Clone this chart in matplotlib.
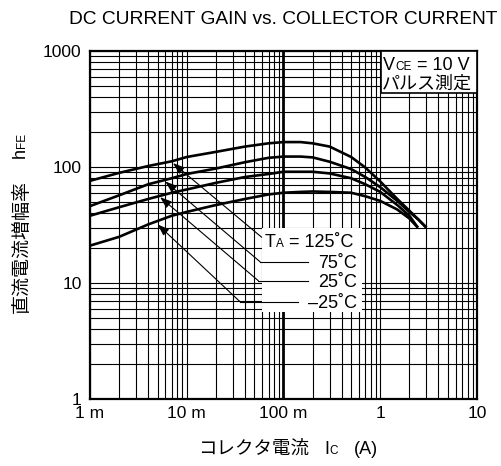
import matplotlib
matplotlib.use("Agg")
import matplotlib.pyplot as plt
from matplotlib.ticker import LogLocator, NullFormatter, FixedLocator
from matplotlib.patches import Rectangle

plt.rcParams['font.family'] = ['Liberation Sans', 'Noto Sans CJK JP']

# Data (collector current in A, hFE)
ic_high = [0.001, 0.002, 0.004, 0.007, 0.01, 0.02, 0.04, 0.07, 0.1, 0.15, 0.2, 0.3, 0.5, 0.7, 1.0, 1.5, 2.0, 2.5, 3.0]
hfe_125 = [76, 89, 102, 112, 122, 135, 150, 160, 164, 164, 160, 150, 122, 99, 75, 53, 42, 35, 30]
hfe_75 = [46, 57, 71, 80, 87, 97, 110, 120, 123, 123, 121, 111, 96, 82, 67, 51, 41, 35, 30]

ic_low = [0.001, 0.002, 0.004, 0.007, 0.01, 0.02, 0.04, 0.07, 0.1, 0.15, 0.2, 0.3, 0.5, 0.7, 1.0, 1.5, 2.0, 2.45]
hfe_25 = [38, 45, 53, 60, 64, 73, 82, 87, 91, 91, 91, 88, 80, 71, 61, 47, 38, 30]
hfe_m25 = [21, 25, 32, 38, 41, 47, 53, 58, 60, 61, 61.5, 61, 60, 56, 51, 43, 36, 30]

temp_labels = ['125˚C', '75˚C', '25˚C', '–25˚C']
arrow_tips = [(0.0072, 108), (0.0060, 75), (0.0053, 55), (0.0050, 32)]   # where each leader touches its curve

x_ticks = [0.001, 0.01, 0.1, 1, 10]
x_tick_labels = ['1 m', '10 m', '100 m', '1', '10']
y_ticks = [1, 10, 100, 1000]
y_tick_labels = ['1', '10', '100', '1000']

W, H = 502, 466
FS = 13        # main text size
SUB = 8.5      # size of the small letters (CE, A, C, FE)

def fx(px): return px / W            # pixel -> figure fraction
def fy(py): return 1 - py / H

fig = plt.figure(figsize=(W / 100, H / 100), dpi=100)
ax = fig.add_axes([fx(90), fy(399), 387 / W, 348 / H])
ax.set_xscale('log')
ax.set_yscale('log')
ax.set_xlim(1e-3, 10)
ax.set_ylim(1, 1000)

# log grid with every minor line, like the printed graph paper
ax.xaxis.set_major_locator(FixedLocator(x_ticks))
ax.xaxis.set_minor_locator(LogLocator(base=10, subs=range(2, 10), numticks=20))
ax.xaxis.set_minor_formatter(NullFormatter())
ax.set_xticklabels(x_tick_labels)
ax.yaxis.set_major_locator(FixedLocator(y_ticks))
ax.yaxis.set_minor_locator(LogLocator(base=10, subs=range(2, 10), numticks=20))
ax.yaxis.set_minor_formatter(NullFormatter())
ax.set_yticklabels(y_tick_labels)
ax.tick_params(which='both', length=0, labelsize=12.5, colors='black')
ax.tick_params(axis='x', pad=5)
ax.tick_params(axis='y', pad=6)
ax.grid(which='both', color='black', linewidth=0.8)
for s in ax.spines.values():
    s.set_linewidth(1.6)
for loc, gl in zip(ax.get_xticks(), ax.get_xgridlines()):
    if abs(loc - 0.1) < 1e-9:
        gl.set_linewidth(2.0)          # heavy line at 100 mA

# curves
for xs, ys in [(ic_high, hfe_125), (ic_high, hfe_75), (ic_low, hfe_25), (ic_low, hfe_m25)]:
    ax.plot(xs, ys, color='black', linewidth=1.9, zorder=2.5, solid_capstyle='butt')

# white patch behind the temperature labels
ax.add_patch(Rectangle((0.4444, 0.25), 0.2584, 0.2422, transform=ax.transAxes,
                       facecolor='white', edgecolor='none', zorder=2.2))

def chain(first, pieces, size0=FS):
    # place text pieces one after another on a shared baseline
    prev, prev_size, lift = first, size0, 0.0
    for s, size in pieces:
        lift += 0.212 * (prev_size - size)     # descent difference, keeps baselines level
        prev = ax.annotate(s, xy=(1, 0), xycoords=prev, xytext=(0, 0.212 * (prev_size - size)),
                           textcoords='offset points', ha='left', va='bottom',
                           fontsize=size, annotation_clip=False, zorder=4)
        prev_size = size
    return prev

# leader lines: bend point / end of horizontal run, axes fraction
bends = [(0.4437, 0.4647), (0.4393, 0.3945), (0.4349, 0.3399), (0.3876, 0.2796)]
run_ends = [None, 0.5633, 0.5633, 0.5375]
for tip, bend, end in zip(arrow_tips, bends, run_ends):
    ax.annotate('', xy=tip, xycoords='data', xytext=bend, textcoords='axes fraction',
                arrowprops=dict(arrowstyle='-|>,head_length=0.7,head_width=0.25', color='black',
                                lw=0.8, shrinkA=0, shrinkB=0, mutation_scale=10), zorder=3)
    if end is not None:
        ax.plot([bend[0], end], [bend[1], bend[1]], transform=ax.transAxes,
                color='black', linewidth=0.8, zorder=3)

t = ax.text(0.4522, 0.4368, 'T', transform=ax.transAxes, fontsize=FS, ha='left', va='baseline', zorder=4)
chain(t, [('A', SUB), (' = ' + temp_labels[0], FS)])
for lab, yb in zip(temp_labels[1:], [0.3756, 0.3210, 0.2629]):
    ax.text(0.6891, yb, lab, transform=ax.transAxes, fontsize=FS, ha='right', va='baseline', zorder=4)

# condition box top right
ax.add_patch(Rectangle((0.752, 0.879), 0.248, 0.121, transform=ax.transAxes,
                       facecolor='white', edgecolor='black', linewidth=1.2, zorder=3, clip_on=False))
v = ax.text(0.758, 0.945, 'V', transform=ax.transAxes, fontsize=FS, ha='left', va='baseline', zorder=4)
chain(v, [('CE', SUB), (' = 10 V', FS)])
ax.text(0.7537, 0.905, 'パルス測定', transform=ax.transAxes, fontsize=FS, ha='left', va='center', zorder=4)

# title and axis labels
fig.text(fx(283.5), fy(20), 'DC CURRENT GAIN vs. COLLECTOR CURRENT', ha='center', va='center', fontsize=13.8)

fig.text(fx(198), fy(454), 'コレクタ電流', ha='left', va='baseline', fontsize=13.3)
ic = fig.text(fx(324), fy(454), 'I', ha='left', va='baseline', fontsize=FS)
chain(ic, [('C', SUB)])
fig.text(fx(354), fy(454), '(A)', ha='left', va='baseline', fontsize=FS)

fig.text(fx(26.5), fy(313), '直流電流増幅率', rotation=90, rotation_mode='anchor', ha='left', va='baseline', fontsize=13.7)
fig.text(fx(25), fy(158), 'h', rotation=90, rotation_mode='anchor', ha='left', va='baseline', fontsize=FS)
fig.text(fx(25), fy(147.5), 'FE', rotation=90, rotation_mode='anchor', ha='left', va='baseline', fontsize=SUB)

fig.savefig('out.png', dpi=100)
